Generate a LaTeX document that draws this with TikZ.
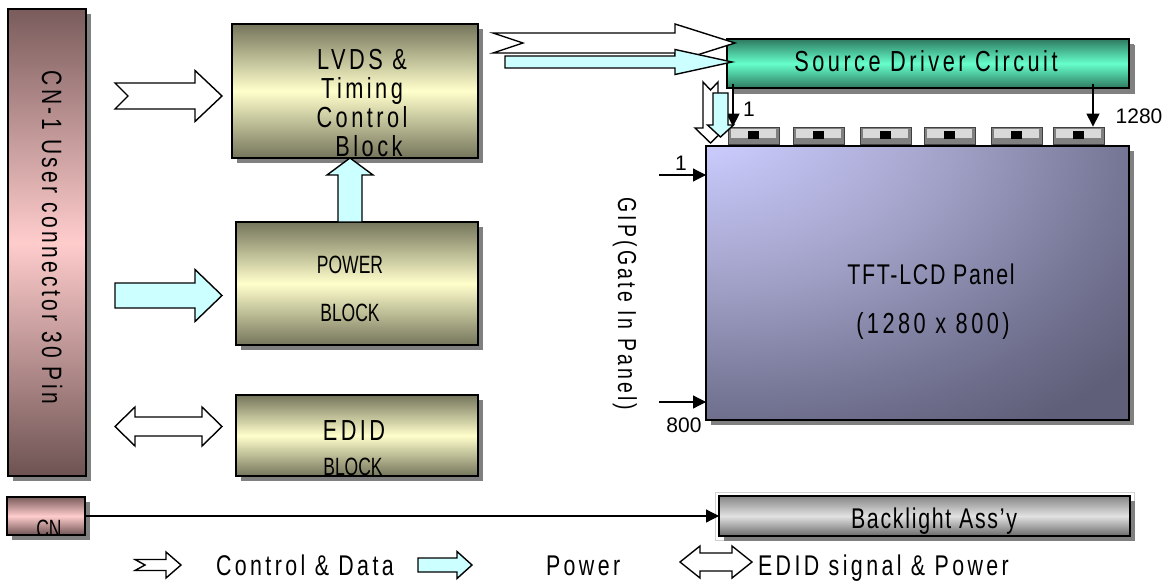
\documentclass[tikz,border=0pt]{standalone}
\usepackage{fontspec}
\setmainfont{Liberation Sans}
\newfontfamily\gfA[FakeStretch=0.75,LetterSpace=12]{Liberation Sans}
\newfontfamily\gfB[FakeStretch=0.75,LetterSpace=6]{Liberation Sans}
\newfontfamily\gfN[FakeStretch=0.7]{Liberation Sans}
\newcommand\Tsp{\gfA\fontsize{29pt}{32pt}\selectfont}
\newcommand\Tcn{\gfA\fontsize{28pt}{32pt}\selectfont}
\newcommand\Tgip{\gfA\fontsize{26pt}{30pt}\selectfont}
\newcommand\Tsm{\gfB\fontsize{28.5pt}{32pt}\selectfont}
\newcommand\Tleg{\gfA\fontsize{28.5pt}{32pt}\selectfont}
\newcommand\Tnar{\gfN\fontsize{25pt}{28pt}\selectfont}
\newcommand\Tnum{\fontsize{21pt}{24pt}\selectfont}
\usetikzlibrary{shadows,arrows.meta}
\definecolor{ytop}{HTML}{75755C}
\definecolor{ymid}{HTML}{FFFFCC}
\definecolor{ptop}{HTML}{7A5C5C}
\definecolor{pmid}{HTML}{FFCCCC}
\definecolor{gtop}{HTML}{2E7A60}
\definecolor{gmid}{HTML}{66FFCC}
\definecolor{btop}{HTML}{858585}
\definecolor{bmid}{HTML}{E2E2E2}
\definecolor{bbot}{HTML}{6A6A6A}
\definecolor{cyanf}{HTML}{CCFFFF}
\definecolor{pA}{HTML}{CCCCFF}
\definecolor{pB}{HTML}{A0A0C6}
\definecolor{pC}{HTML}{767696}
\definecolor{pD}{HTML}{5F5F79}
\definecolor{pE}{HTML}{5A5A70}
\pgfdeclareradialshading{panelshade}{\pgfpoint{-30bp}{35bp}}{color(0bp)=(pA); color(8bp)=(pA); color(29bp)=(pB); color(45bp)=(pC); color(57bp)=(pD); color(150bp)=(pE)}
\tikzset{
  box/.style={draw=black, line width=1.3pt, inner sep=0pt, outer sep=0pt,
    drop shadow={shadow xshift=5pt, shadow yshift=-5pt, fill=black!50, opacity=1}},
  ybox/.style={box, top color=ytop, bottom color=ytop, middle color=ymid},
  pbox/.style={box, top color=ptop, bottom color=ptop!90!black, middle color=pmid},
  gbox/.style={box, top color=gtop, bottom color=gtop, middle color=gmid},
  bbox/.style={box, top color=btop, bottom color=bbot, middle color=bmid},
  chip/.style={draw=black!75, line width=0.8pt, fill=black!50, minimum width=51pt, minimum height=17pt, inner sep=0pt},
  txt/.style={inner sep=0pt, outer sep=0pt},
  blk/.style={draw=black, line width=1.4pt, line join=miter},
  thinarr/.style={line width=1.2pt, -{Triangle[length=13pt,width=13pt]}}
}
% horizontal block arrow: x0, x1, yc, shaft half, head half, head length, notch, fill
\newcommand\HArr[8]{\draw[blk,fill=#8] ({#1},{#3-#4}) -- ({#2-#6},{#3-#4}) -- ({#2-#6},{#3-#5}) -- ({#2},{#3}) -- ({#2-#6},{#3+#5}) -- ({#2-#6},{#3+#4}) -- ({#1},{#3+#4}) -- ({#1+#7},{#3}) -- cycle;}
% vertical block arrow: y0 (tail), y1 (tip), xc, shaft half, head half, head length (signed), notch (signed), fill
\newcommand\VArr[8]{\draw[blk,fill=#8] ({#3-#4},{#1}) -- ({#3-#4},{#2-(#6)}) -- ({#3-#5},{#2-(#6)}) -- ({#3},{#2}) -- ({#3+#5},{#2-(#6)}) -- ({#3+#4},{#2-(#6)}) -- ({#3+#4},{#1}) -- ({#3},{#1+(#7)}) -- cycle;}
% double arrow: x0, x1, yc, shaft half, head half, head length
\newcommand\HDbl[6]{\draw[blk,fill=white] ({#1},{#3}) -- ({#1+#6},{#3-#5}) -- ({#1+#6},{#3-#4}) -- ({#2-#6},{#3-#4}) -- ({#2-#6},{#3-#5}) -- ({#2},{#3}) -- ({#2-#6},{#3+#5}) -- ({#2-#6},{#3+#4}) -- ({#1+#6},{#3+#4}) -- ({#1+#6},{#3+#5}) -- cycle;}
\begin{document}
\begin{tikzpicture}[x=1pt,y=-1pt]
\useasboundingbox[fill=white] (0,0) rectangle (1173,583);

% connectors (boxes)
\node[pbox, minimum width=78pt, minimum height=467pt] (cn1) at (47,242.5) {};
\node[txt, rotate=-90, anchor=base] (cn1t) at (42,237.5) {\Tcn CN-1 User connector 30 Pin};
\node[pbox, minimum width=78pt, minimum height=38pt] (cn) at (46,516) {};
\begin{scope}
\clip (7,497) rectangle (85,535);
\node[txt, anchor=base] (cnt) at (49,537) {\Tnar CN};
\end{scope}

% blocks
\node[ybox, minimum width=246pt, minimum height=134pt] (lvds) at (355,91) {};
\node[txt, anchor=base] (lv1) at (362,70) {\Tsp LVDS \&};
\node[txt, anchor=base] (lv2) at (362,99) {\Tsp Timing};
\node[txt, anchor=base] (lv3) at (362,128) {\Tsp Control};
\node[txt, anchor=base] (lv4) at (369,157) {\Tsp Block};

\node[ybox, minimum width=242pt, minimum height=123pt] (power) at (357,283.5) {};
\node[txt, anchor=base] (pw1) at (350,273) {\Tnar POWER};
\node[txt, anchor=base] (pw2) at (350,321) {\Tnar BLOCK};

\node[ybox, minimum width=242pt, minimum height=81pt] (edid) at (357,435.5) {};
\node[txt, anchor=base] (ed1) at (354,440) {\Tsp EDID};
\node[txt, anchor=base] (ed2) at (353,475) {\Tnar BLOCK};

% source driver and panel
\node[gbox, minimum width=402pt, minimum height=49pt, drop shadow={shadow xshift=6pt, shadow yshift=-6pt, fill=black!50, opacity=1}] (src) at (928,63.5) {};
\node[txt, anchor=base] (srct) at (926,72) {\Tsp Source Driver Circuit};

\node[box, shade, shading=panelshade, minimum width=423pt, minimum height=274pt] (panel) at (917.5,283) {};
\node[txt, anchor=base] (pt1) at (931,284) {\Tsm TFT-LCD Panel};
\node[txt, anchor=base] (pt2) at (933,333) {\Tsp (1280 x 800)};

\foreach \i/\x in {1/728,2/793,3/860,4/924,5/991,6/1053}{
  \node[chip] (chip\i) at ({\x+25.5},135.5) {};
  \fill[black!15] ({\x+3},129.5) rectangle ({\x+48},138);
  \fill[black] ({\x+20},131) rectangle ({\x+31},139);
}

% backlight
\draw[black!18, line width=1pt] (715,492) rectangle (1134,540);
\node[bbox, minimum width=411pt, minimum height=40pt] (bl) at (924.5,516) {};
\node[txt, anchor=base] (blt) at (934,528) {\Tsm Backlight Ass’y};

% thin arrows
\draw[thinarr] (cn.east) -- (cn.east -| bl.west);
\coordinate (s1) at (733,84);
\coordinate (s6) at (1093,84);
\draw[thinarr] (s1) -- (s1 |- chip1.north);
\draw[thinarr] (s6) -- (s6 |- chip6.north);
\coordinate (g1) at (659,175);
\coordinate (g8) at (659,402);
\draw[thinarr] (g1) -- (g1 -| panel.west);
\draw[thinarr] (g8) -- (g8 -| panel.west);
\node[txt, anchor=base] (n1a) at (749,117) {\Tnum 1};
\node[txt, anchor=base] (n1280) at (1139,124) {\Tnum 1280};
\node[txt, anchor=base] (n1b) at (681,171) {\Tnum 1};
\node[txt, anchor=base] (n800) at (684,432) {\Tnum 800};
\node[txt, rotate=-90, anchor=base] (gip) at (618,304) {\Tgip GIP(Gate In Panel)};

% block arrows
\HArr{115}{222}{96}{13}{25.5}{27}{13}{white}
\HArr{115}{222}{295.5}{12.5}{26}{27}{0}{cyanf}
\HDbl{115}{222}{426.5}{9.5}{19.5}{20}
\VArr{222}{158}{350}{12}{23}{-17}{0}{cyanf}
\HArr{493}{735}{43}{10}{19}{60}{30}{white}
\HArr{505}{732}{62}{6}{12.5}{57}{0}{cyanf}
\VArr{82}{143}{710.5}{7.5}{15.5}{15}{8}{white}
\VArr{93}{137}{720.5}{7.5}{13}{12}{0}{cyanf}

% legend
\HArr{135}{181}{565}{5.5}{13}{15}{10}{white}
\node[txt, anchor=base west] (lg1) at (216,575) {\Tleg Control \& Data};
\HArr{418}{472}{565}{7}{13.5}{15}{0}{cyanf}
\node[txt, anchor=base west] (lg2) at (546,575) {\Tleg Power};
\HDbl{680}{752}{562}{9}{16}{20}
\node[txt, anchor=base west] (lg3) at (758,575) {\Tleg EDID signal \& Power};
\end{tikzpicture}
\end{document}
